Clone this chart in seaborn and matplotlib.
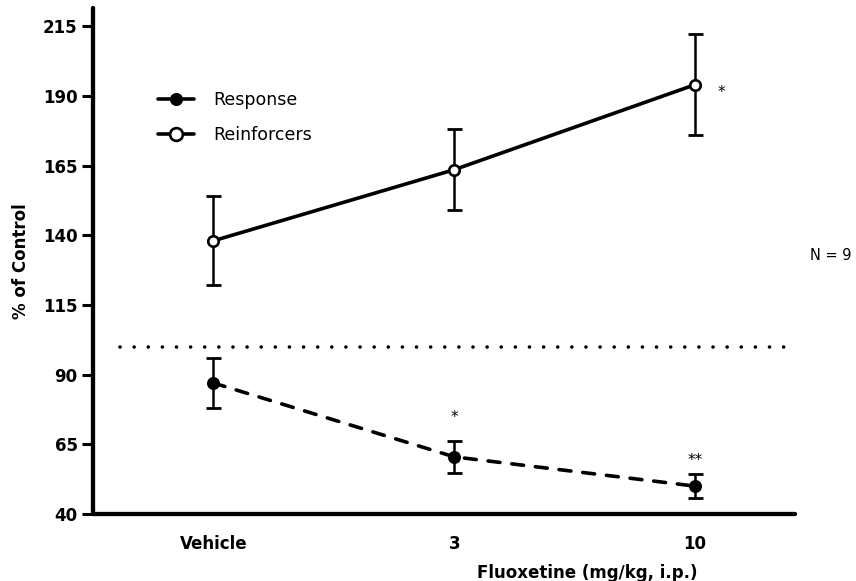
import numpy as np
import pandas as pd
import matplotlib
matplotlib.use("Agg")
import matplotlib.pyplot as plt
from matplotlib.lines import Line2D
import seaborn as sns

# Dose groups and group means / SEM (% of control)
doses = ["Vehicle", "3", "10"]
response_mean = [87.0, 60.5, 50.0]
response_sem = [9.0, 5.8, 4.3]
reinforcer_mean = [138.0, 163.5, 194.0]
reinforcer_sem = [16.0, 14.5, 18.0]
control_level = 100
y_ticks = [40, 65, 90, 115, 140, 165, 190, 215]
response_sig = ["", "*", "**"]
reinforcer_sig = ["", "", "*"]
n_label = "N = 9"

sns.set_style("ticks")
plt.rcParams["font.family"] = ["DejaVu Sans"]
plt.rcParams.update({
    "text.color": "black",
    "axes.labelcolor": "black",
    "xtick.color": "black",
    "ytick.color": "black",
    "xtick.labelcolor": "black",
    "ytick.labelcolor": "black",
})

pos = np.arange(len(doses))
df = pd.DataFrame({
    "pos": np.concatenate([pos, pos]),
    "value": response_mean + reinforcer_mean,
    "sem": response_sem + reinforcer_sem,
    "measure": ["Response"] * len(doses) + ["Reinforcers"] * len(doses),
})
resp = df[df.measure == "Response"]
reinf = df[df.measure == "Reinforcers"]

W, H = 856, 581
fig = plt.figure(figsize=(W / 100, H / 100), dpi=100)
ax = fig.add_axes([93 / W, 1 - 514 / H, (795 - 93) / W, (514 - 8) / H])

# connecting lines
sns.lineplot(data=df, x="pos", y="value", hue="measure", style="measure",
             palette={"Response": "black", "Reinforcers": "black"},
             dashes={"Response": (3.3, 3.3), "Reinforcers": ""},
             linewidth=2.6, errorbar=None, legend=False, ax=ax, zorder=2)
for line in ax.lines:
    line.set_dash_capstyle("round")
    line.set_solid_capstyle("round")

# control reference line
ax.axhline(control_level, xmin=0.0385, xmax=0.986, color="black",
           linewidth=2.6, linestyle=(0, (0.01, 3.9)), dash_capstyle="round",
           zorder=1)

# SEM error bars
for sub in (resp, reinf):
    ax.errorbar(sub["pos"], sub["value"], yerr=sub["sem"], fmt="none",
                ecolor="black", elinewidth=1.8, capsize=5.4, capthick=2.0,
                zorder=3)

# group markers
sns.scatterplot(data=resp, x="pos", y="value", color="black", s=88,
                linewidth=0, ax=ax, zorder=4, legend=False)
sns.scatterplot(data=reinf, x="pos", y="value", facecolor="white",
                edgecolor="black", s=57, linewidth=1.9, ax=ax, zorder=4,
                legend=False)

# significance marks
resp_offsets = [(0, 0), (0, 17), (0, 10)]
for x, m, s, lab, off in zip(pos, response_mean, response_sem, response_sig, resp_offsets):
    if lab:
        ax.annotate(lab, (x, m + s), xytext=off, textcoords="offset points",
                    ha="center", va="center", fontsize=11)
for x, m, lab in zip(pos, reinforcer_mean, reinforcer_sig):
    if lab:
        ax.annotate(lab, (x, m), xytext=(19, -6), textcoords="offset points",
                    ha="center", va="center", fontsize=11)

# axes styling
ax.set_xlim(-0.5, 2.415)
ax.set_ylim(40, 221.5)
ax.set_yticks(y_ticks)
ax.set_yticklabels([str(t) for t in y_ticks], fontweight="bold", fontsize=12)
ax.set_xticks(pos)
ax.set_xticklabels(doses, fontweight="bold", fontsize=12)
ax.tick_params(axis="x", length=0, pad=15)
ax.tick_params(axis="y", length=8, width=2.2, pad=3, color="black")
sns.despine(ax=ax)
for side in ("left", "bottom"):
    ax.spines[side].set_linewidth(3.1)
    ax.spines[side].set_color("black")
    ax.spines[side].set_capstyle("round")

ax.set_ylabel("% of Control", fontweight="bold", fontsize=12)
ax.yaxis.set_label_coords((30 - 93) / 702, (514 - 261) / 506)
ax.set_xlabel("Fluoxetine (mg/kg, i.p.)", fontweight="bold", fontsize=12)
ax.xaxis.set_label_coords((477 - 93) / 702, (514 - 564) / 506)
ax.xaxis.label.set_ha("left")

# legend
handles = [
    Line2D([0], [0], color="black", lw=2.6, marker="o", markersize=9.4,
           markerfacecolor="black", markeredgewidth=0),
    Line2D([0], [0], color="black", lw=2.6, marker="o", markersize=9.2,
           markerfacecolor="white", markeredgecolor="black", markeredgewidth=1.9),
]
ax.legend(handles, ["Response", "Reinforcers"], loc="upper left",
          bbox_to_anchor=((158 - 93) / 702, (514 - 91) / 506),
          frameon=False, fontsize=12.5, handlelength=2.1, handletextpad=1.1,
          labelspacing=1.0, borderpad=0, borderaxespad=0)

fig.text(810 / W, 1 - 256 / H, n_label, ha="left", va="center", fontsize=10.5)

fig.savefig("out.png", dpi=100)
